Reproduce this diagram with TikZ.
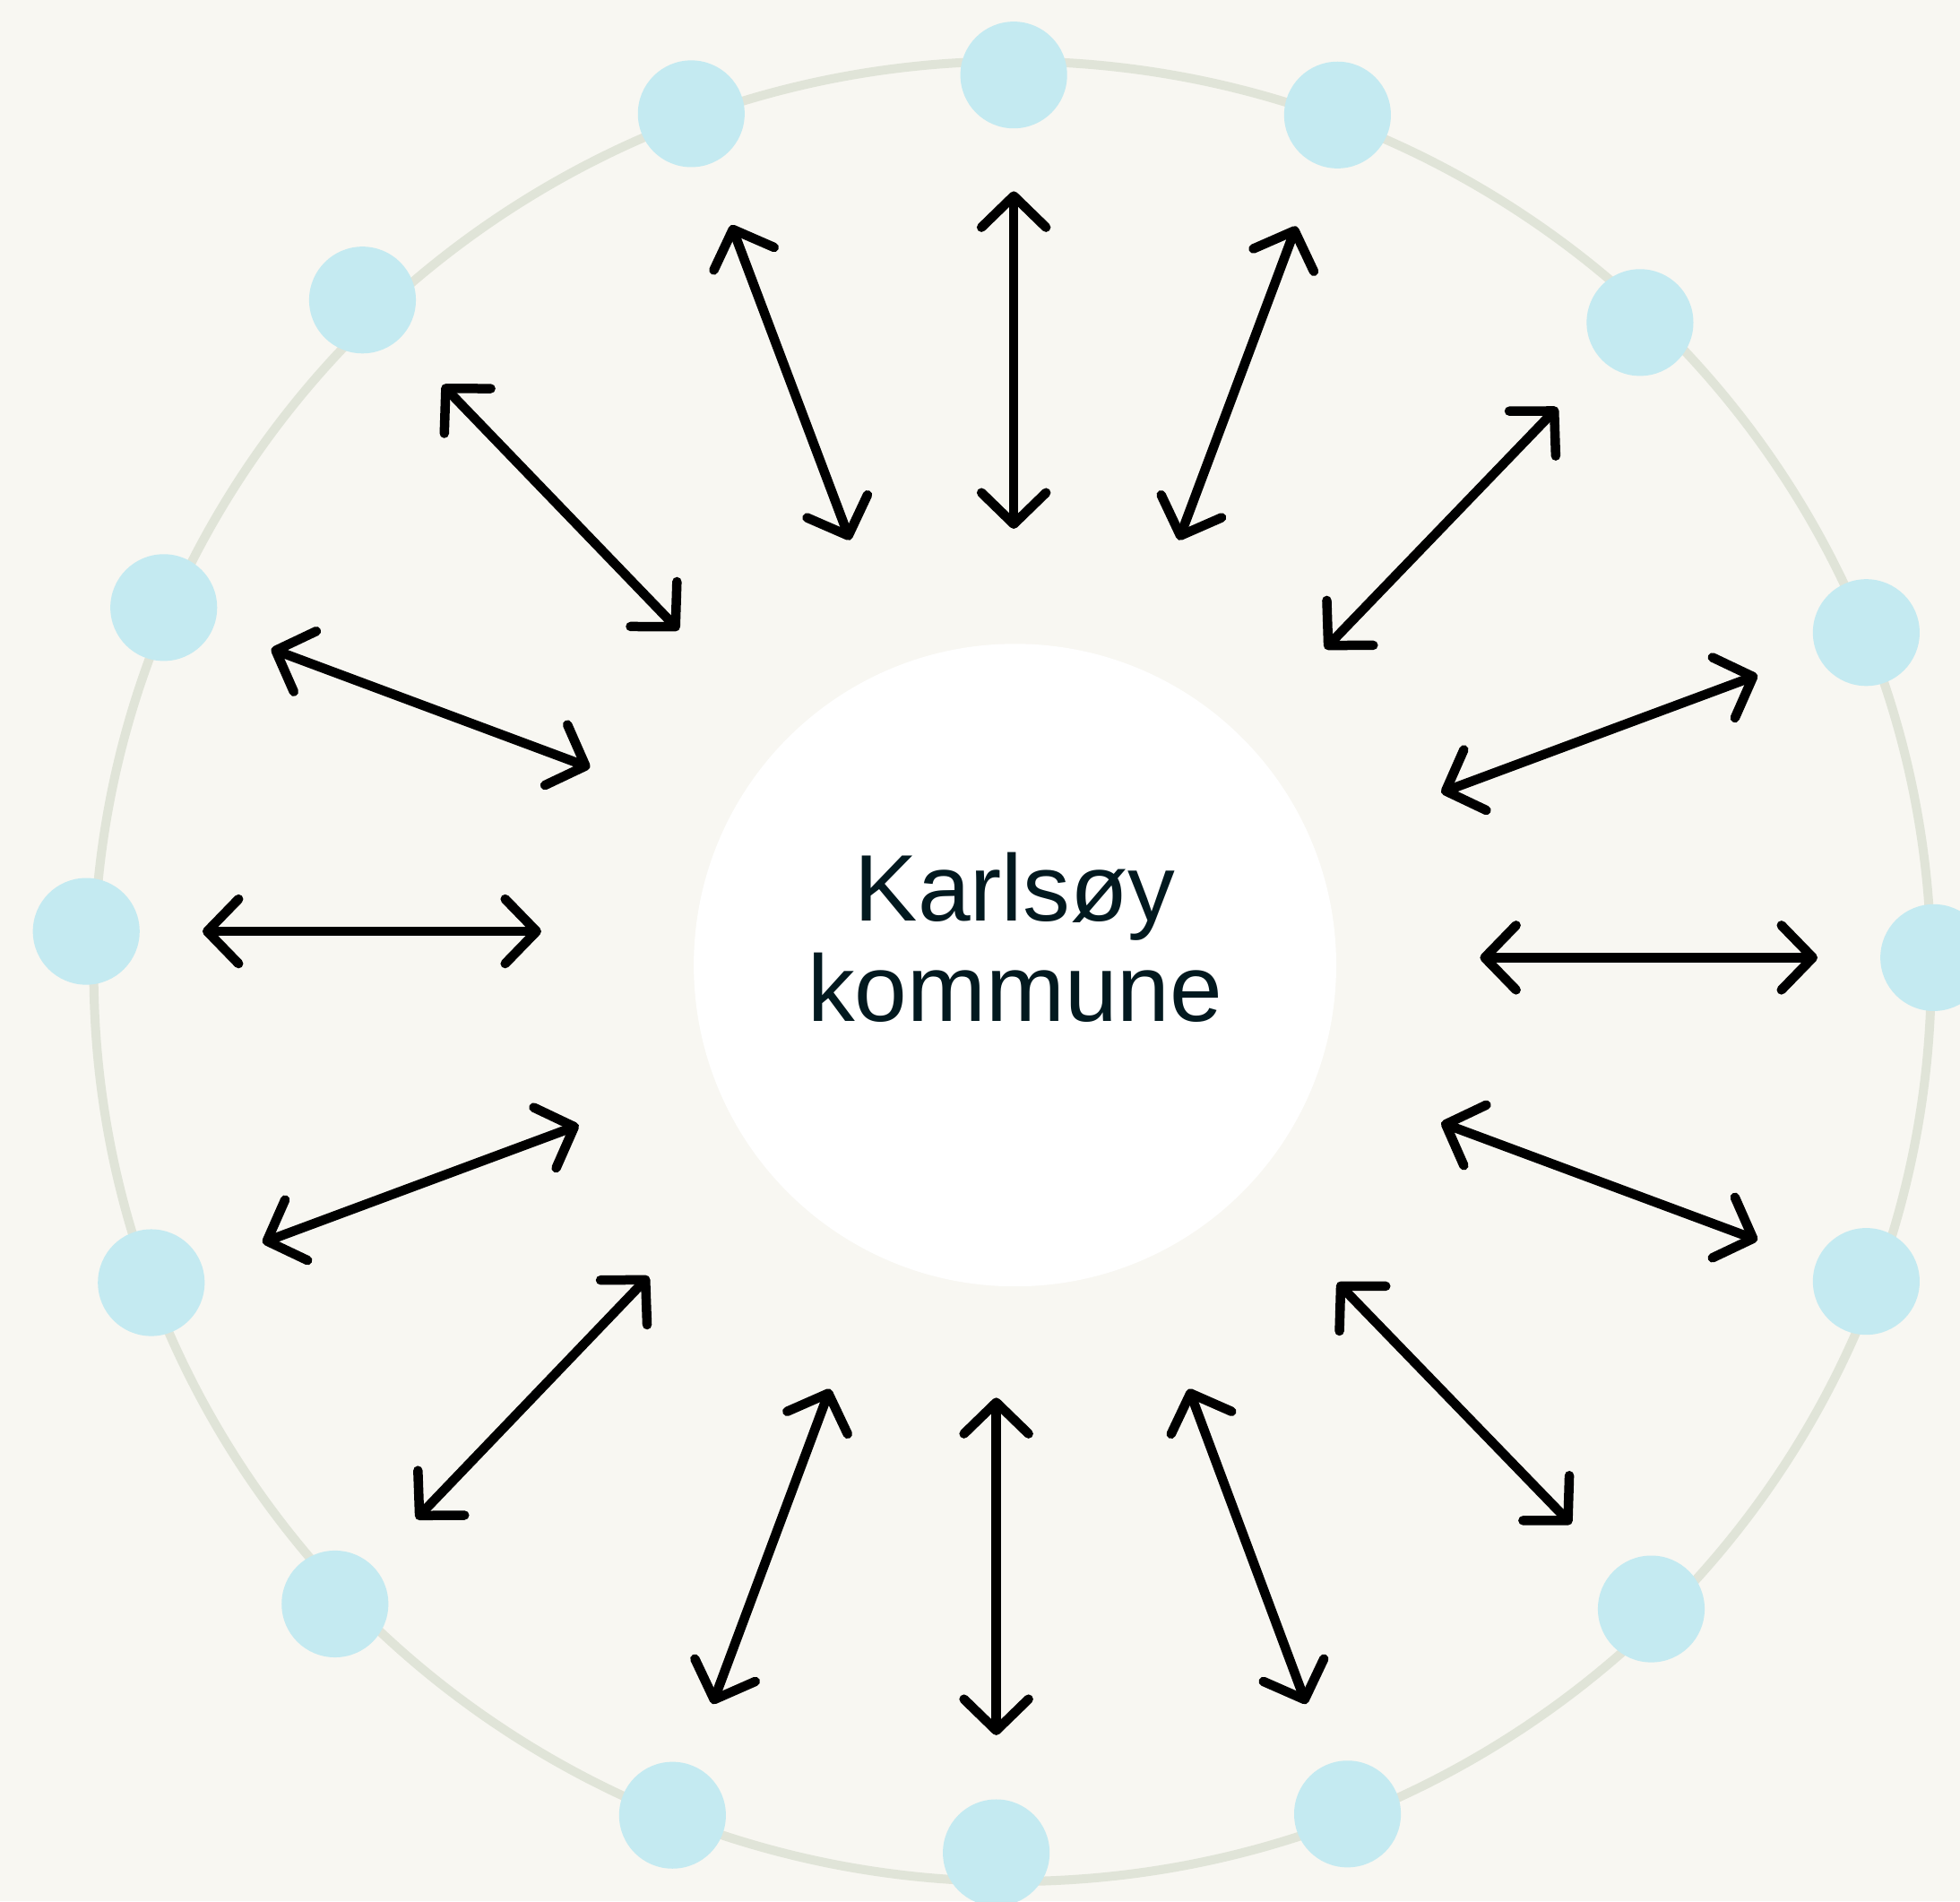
\documentclass[tikz,border=0pt]{standalone}
\usepackage{fontspec}
\setmainfont{Liberation Sans}
\usetikzlibrary{arrows.meta}
\definecolor{paper}{HTML}{F8F7F2}
\definecolor{ringline}{HTML}{E0E4D8}
\definecolor{isle}{HTML}{C4EAF1}
\definecolor{ink}{HTML}{02191F}

\begin{document}
\begin{tikzpicture}[x=0.13948mm,y=-0.13948mm,line cap=round,line join=round,
    >={Straight Barb[length=3.5mm,width=7.2mm,round]},
    twoway/.style={<->,line width=1.05mm,black}]
  % Background and outer ring
  \fill[paper] (0,0) rectangle (1568,1521);
  \useasboundingbox (0,0) rectangle (1568,1521);
  \draw[ringline,line width=1mm] (810,777) ellipse [x radius=735,y radius=728];

  % Islands on the ring
  \coordinate (d1) at (811,60);
  \coordinate (d2) at (1070,92);
  \coordinate (d3) at (1312,258);
  \coordinate (d4) at (1493,506);
  \coordinate (d5) at (1547,766);
  \coordinate (d6) at (1493,1025);
  \coordinate (d7) at (1321,1287);
  \coordinate (d8) at (1078,1451);
  \coordinate (d9) at (797,1482);
  \coordinate (d10) at (538,1452);
  \coordinate (d11) at (268,1283);
  \coordinate (d12) at (121,1026);
  \coordinate (d13) at (69,745);
  \coordinate (d14) at (131,486);
  \coordinate (d15) at (290,240);
  \coordinate (d16) at (553,91);
  \foreach \p in {(d1),(d2),(d3),(d4),(d5),(d6),(d7),(d8),(d9),(d10),(d11),(d12),(d13),(d14),(d15),(d16)}
    \fill[isle] \p circle (42.7);

  % Centre
  \coordinate (c) at (812,772);
  \fill[white] (c) circle (257);
  \node[font=\fontsize{30}{32}\selectfont,text=ink,align=center,anchor=base]
    (kommune) at (812,817) {Karlsøy\\kommune};

  % Two-way arrows
  \coordinate (a1) at (811,153);   \coordinate (b1) at (811,423);
  \coordinate (a2) at (1037,181);  \coordinate (b2) at (943,432);
  \coordinate (a3) at (1246,326);  \coordinate (b3) at (1060,519);
  \coordinate (a4) at (1406,540);  \coordinate (b4) at (1153,634);
  \coordinate (a5) at (1454,766);  \coordinate (b5) at (1184,766);
  \coordinate (a6) at (1406,992);  \coordinate (b6) at (1153,898);
  \coordinate (a7) at (1257,1219); \coordinate (b7) at (1070,1026);
  \coordinate (a8) at (1045,1363); \coordinate (b8) at (951,1111);
  \coordinate (a9) at (797,1388);  \coordinate (b9) at (797,1118);
  \coordinate (a10) at (570,1363); \coordinate (b10) at (664,1111);
  \coordinate (a11) at (333,1215); \coordinate (b11) at (519,1021);
  \coordinate (a12) at (210,994);  \coordinate (b12) at (463,900);
  \coordinate (a13) at (162,745);  \coordinate (b13) at (433,745);
  \coordinate (a14) at (217,519);  \coordinate (b14) at (472,614);
  \coordinate (a15) at (354,308);  \coordinate (b15) at (543,504);
  \coordinate (a16) at (585,180);  \coordinate (b16) at (680,432);
  \foreach \i in {1,...,16}
    \draw[twoway] (a\i) -- (b\i);
\end{tikzpicture}
\end{document}
